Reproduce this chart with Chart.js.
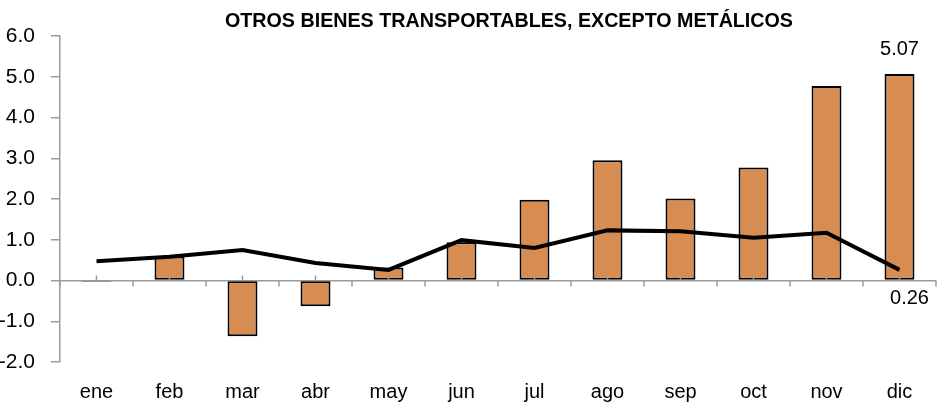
<!DOCTYPE html>
<html>
<head>
<meta charset="utf-8">
<script src="https://cdn.jsdelivr.net/npm/chart.js@4"></script>
<style>
  body { margin: 0; background: #fff; }
  #wrap { width: 943px; height: 405px; position: relative; }
</style>
</head>
<body>
<div id="wrap"><canvas id="chart"></canvas></div>
<script>
// Datos
const meses = ["ene", "feb", "mar", "abr", "may", "jun", "jul", "ago", "sep", "oct", "nov", "dic"];
const barras = [-0.03, 0.59, -1.37, -0.63, 0.32, 0.94, 1.98, 2.95, 2.01, 2.77, 4.77, 5.07];
const linea = [0.47, 0.58, 0.75, 0.43, 0.26, 0.99, 0.80, 1.23, 1.21, 1.05, 1.17, 0.26];
const tituloTexto = "OTROS BIENES TRANSPORTABLES, EXCEPTO METÁLICOS";

const fuente = "'Liberation Sans', Arial, sans-serif";
const gris = "#9a9a9a";

// titulo, marcas del eje cero y etiquetas del ultimo valor
const extras = {
    id: "extras",
    afterDatasetsDraw(chart) {
        const ctx = chart.ctx;
        const area = chart.chartArea;
        const x = chart.scales.x;
        const y0 = chart.scales.y.getPixelForValue(0);
        const paso = (area.right - area.left) / meses.length;

        ctx.save();
        ctx.strokeStyle = gris;
        ctx.lineWidth = 1.5;
        ctx.beginPath();
        for (let i = 0; i <= meses.length; i++) {
            const px = area.left + i * paso;
            ctx.moveTo(px, y0);
            ctx.lineTo(px, y0 + 6);
        }
        meses.forEach((m, i) => {
            const px = x.getPixelForValue(i);
            ctx.moveTo(px, y0 - 5);
            ctx.lineTo(px, y0);
        });
        ctx.stroke();

        ctx.fillStyle = "#000";
        ctx.font = "20px " + fuente;
        ctx.textAlign = "center";
        ctx.textBaseline = "middle";
        const ult = meses.length - 1;
        const barra = chart.getDatasetMeta(1).data[ult];
        ctx.fillText(barras[ult].toFixed(2), barra.x, barra.y - 24);
        const punto = chart.getDatasetMeta(0).data[ult];
        ctx.fillText(linea[ult].toFixed(2), punto.x + 10, punto.y + 29);

        // titulo algo comprimido, como en el original
        ctx.font = "bold 21px " + fuente;
        const w = ctx.measureText(tituloTexto).width;
        ctx.translate(509, 21);
        ctx.scale(568 / w, 1);
        ctx.fillText(tituloTexto, 0, 0);
        ctx.restore();
    }
};

new Chart(document.getElementById("chart"), {
    data: {
        labels: meses,
        datasets: [{
            type: "line",
            data: linea,
            borderColor: "#000",
            borderWidth: 4,
            pointRadius: 0,
            tension: 0,
            order: 0
        }, {
            type: "bar",
            data: barras,
            backgroundColor: "#D78C52",
            borderColor: "#000",
            borderWidth: 2,
            borderSkipped: false,
            categoryPercentage: 1,
            barPercentage: 0.41,
            order: 1
        }]
    },
    options: {
        responsive: true,
        maintainAspectRatio: false,
        animation: false,
        layout: { padding: { top: 36, right: 7, left: 0, bottom: 0 } },
        plugins: {
            legend: { display: false },
            title: { display: false },
            tooltip: { enabled: false }
        },
        scales: {
            x: {
                grid: { display: false },
                border: { display: false },
                ticks: {
                    color: "#000",
                    font: { size: 20, family: fuente },
                    padding: 10,
                    maxRotation: 0
                },
                afterFit(scale) { scale.height = 43; }
            },
            y: {
                min: -2,
                max: 6,
                ticks: {
                    stepSize: 1,
                    color: "#000",
                    font: { size: 21, family: fuente },
                    padding: 16,
                    callback: v => v.toFixed(1)
                },
                grid: {
                    color: ctx => ctx.tick && ctx.tick.value === 0 ? gris : "transparent",
                    tickColor: gris,
                    tickLength: 9,
                    lineWidth: 1.5
                },
                border: { color: gris, width: 1.5 },
                afterFit(scale) { scale.width = 60; }
            }
        }
    },
    plugins: [extras]
});
</script>
</body>
</html>
